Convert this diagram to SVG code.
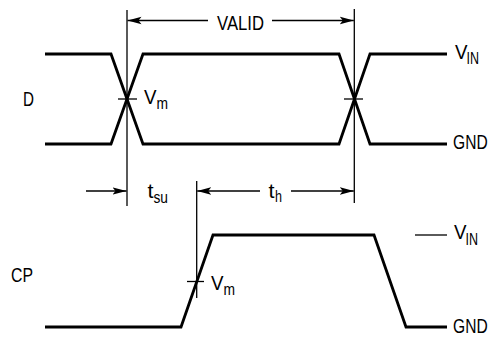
<svg xmlns="http://www.w3.org/2000/svg" width="490" height="337" viewBox="0 0 490 337">
<style>
  .wave { fill: none; stroke: #000; stroke-width: 2.8; stroke-linejoin: miter; }
  .thin { fill: none; stroke: #000; stroke-width: 1.3; }
  .lbl { font-family: "Liberation Sans", Arial, sans-serif; font-size: 20px; fill: #000; }
  .sub { font-family: "Liberation Sans", Arial, sans-serif; font-size: 16px; fill: #000; }
</style>
<defs>
  <marker id="arrow" markerUnits="userSpaceOnUse" markerWidth="16" markerHeight="10" refX="14" refY="4" orient="auto" viewBox="0 0 16 8">
    <path d="M14,4 L0,0.3 L3,4 L0,7.7 Z" fill="#000"/>
  </marker>
</defs>
<rect width="490" height="337" fill="#fff"/>

<g id="D-signal">
  <polyline class="wave" points="45,54 111,54 143,144 339,144 370,54 447,54"/>
  <polyline class="wave" points="45,144 111,144 143,54 339,54 370,144 447,144"/>
  <text class="lbl" x="23" y="106" textLength="11" lengthAdjust="spacingAndGlyphs">D</text>
  <text class="lbl" x="455" y="59" textLength="12.5" lengthAdjust="spacingAndGlyphs">V</text>
  <text class="sub" x="466.5" y="64" textLength="12.5" lengthAdjust="spacingAndGlyphs">IN</text>
  <text class="lbl" transform="translate(453,149) scale(0.78,1)" x="0" y="0">GND</text>
  <line class="thin" x1="118" y1="99" x2="137" y2="99"/>
  <line class="thin" x1="344" y1="99" x2="363" y2="99"/>
  <text class="lbl" x="144" y="104" textLength="12.5" lengthAdjust="spacingAndGlyphs">V</text>
  <text class="sub" x="156.5" y="108.5" textLength="11.5" lengthAdjust="spacingAndGlyphs">m</text>
</g>

<g id="CP-signal">
  <polyline class="wave" points="45,327 181,327 213,235 374,235 406,327 447,327"/>
  <line class="thin" x1="415" y1="235" x2="447" y2="235"/>
  <text class="lbl" x="11" y="282" textLength="22" lengthAdjust="spacingAndGlyphs">CP</text>
  <text class="lbl" x="454" y="239" textLength="12.5" lengthAdjust="spacingAndGlyphs">V</text>
  <text class="sub" x="465.5" y="245" textLength="12.5" lengthAdjust="spacingAndGlyphs">IN</text>
  <text class="lbl" transform="translate(453,332.5) scale(0.78,1)" x="0" y="0">GND</text>
  <line class="thin" x1="187" y1="281.5" x2="204" y2="281.5"/>
  <text class="lbl" x="211" y="290" textLength="12.5" lengthAdjust="spacingAndGlyphs">V</text>
  <text class="sub" x="223.5" y="294.5" textLength="11.5" lengthAdjust="spacingAndGlyphs">m</text>
</g>

<g id="connectors">
  <line class="thin" x1="127" y1="10" x2="127" y2="206"/>
  <line class="thin" x1="354.3" y1="9" x2="354.3" y2="203"/>
  <line class="thin" x1="196.7" y1="181" x2="196.7" y2="298"/>
  <line class="thin" x1="208" y1="20.5" x2="127.5" y2="20.5" marker-end="url(#arrow)"/>
  <line class="thin" x1="272" y1="20.5" x2="353.8" y2="20.5" marker-end="url(#arrow)"/>
  <line class="thin" x1="86" y1="191" x2="126.5" y2="191" marker-end="url(#arrow)"/>
  <line class="thin" x1="260" y1="191" x2="197.2" y2="191" marker-end="url(#arrow)"/>
  <line class="thin" x1="291" y1="191" x2="353.8" y2="191" marker-end="url(#arrow)"/>
</g>

<g id="dimension-labels">
  <text class="lbl" x="217" y="29.5" textLength="47" lengthAdjust="spacingAndGlyphs">VALID</text>
  <text class="lbl" x="147.5" y="198" textLength="6" lengthAdjust="spacingAndGlyphs">t</text>
  <text class="sub" x="153.5" y="202.5" textLength="14.5" lengthAdjust="spacingAndGlyphs">su</text>
  <text class="lbl" x="268.5" y="198" textLength="6" lengthAdjust="spacingAndGlyphs">t</text>
  <text class="sub" x="275" y="202" textLength="7" lengthAdjust="spacingAndGlyphs">h</text>
</g>
</svg>
